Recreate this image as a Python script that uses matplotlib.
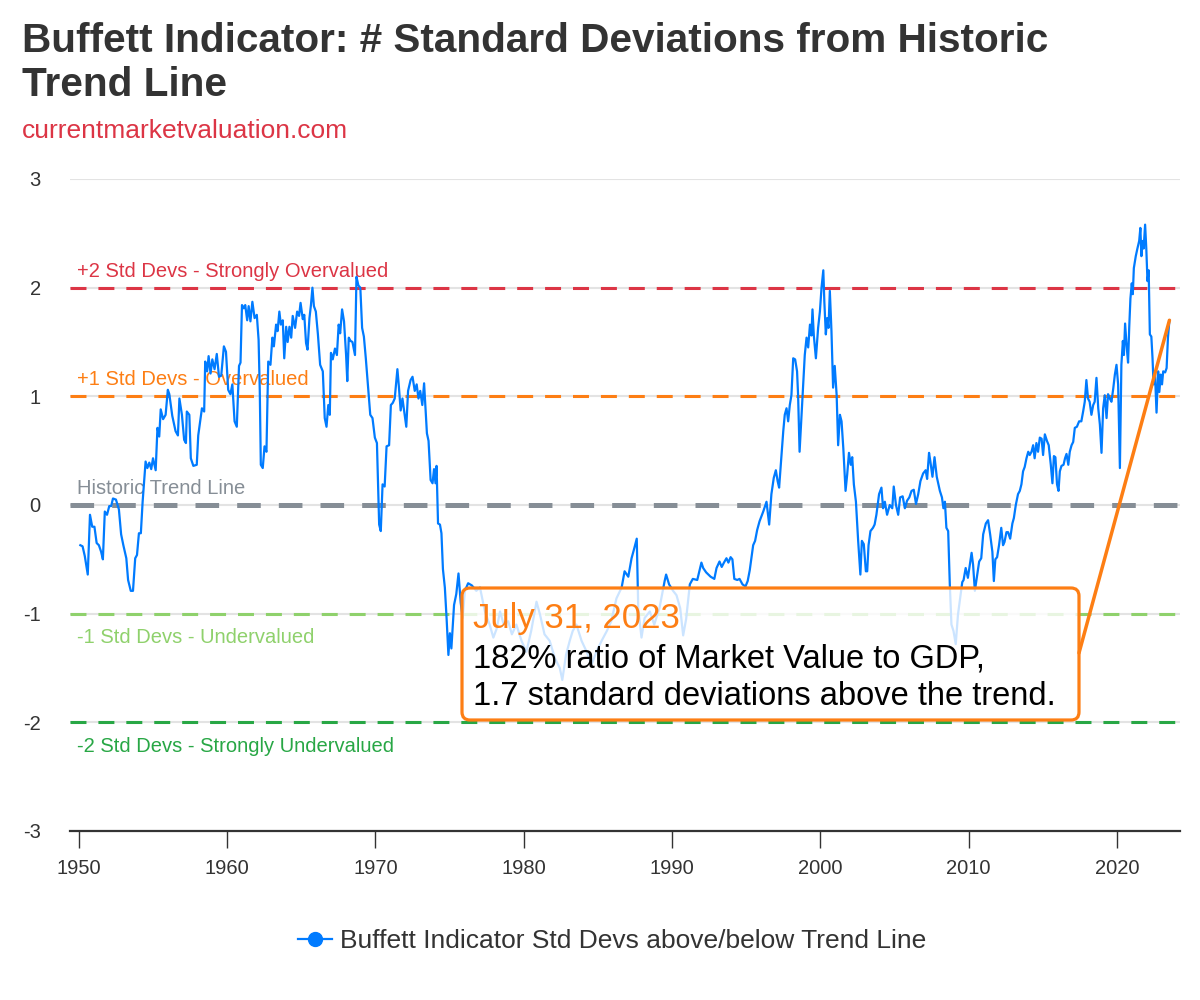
import matplotlib
matplotlib.use("Agg")
import matplotlib.pyplot as plt
import matplotlib.transforms as mtransforms
from matplotlib.patches import FancyBboxPatch
from matplotlib.lines import Line2D

plt.rcParams['font.family'] = ['Liberation Sans', 'DejaVu Sans']
plt.rcParams['axes.unicode_minus'] = False
plt.rcParams['lines.scale_dashes'] = False

# decimal year / std devs from trend
years = [
    1950.10, 1950.25, 1950.40, 1950.60, 1950.75, 1950.90, 1951.05, 1951.20, 1951.35, 1951.50,
    1951.62, 1951.75, 1951.90, 1952.05, 1952.18, 1952.30, 1952.50, 1952.70, 1952.85, 1953.00,
    1953.20, 1953.32, 1953.50, 1953.65, 1953.80, 1953.92, 1954.05, 1954.18, 1954.30, 1954.50,
    1954.62, 1954.75, 1954.88, 1955.00, 1955.18, 1955.30, 1955.42, 1955.52, 1955.68, 1955.85,
    1956.00, 1956.10, 1956.30, 1956.52, 1956.68, 1956.78, 1956.95, 1957.10, 1957.22, 1957.28,
    1957.45, 1957.55, 1957.72, 1957.95, 1958.05, 1958.30, 1958.45, 1958.52, 1958.65, 1958.75,
    1958.88, 1959.00, 1959.15, 1959.30, 1959.45, 1959.60, 1959.78, 1959.92, 1960.07, 1960.22,
    1960.35, 1960.50, 1960.65, 1960.80, 1960.90, 1961.00, 1961.12, 1961.22, 1961.35, 1961.45,
    1961.57, 1961.70, 1961.85, 1962.00, 1962.12, 1962.20, 1962.27, 1962.40, 1962.52, 1962.65,
    1962.77, 1962.92, 1963.05, 1963.15, 1963.30, 1963.40, 1963.52, 1963.62, 1963.75, 1963.85,
    1963.98, 1964.08, 1964.20, 1964.32, 1964.42, 1964.58, 1964.72, 1964.85, 1964.95, 1965.10,
    1965.20, 1965.32, 1965.42, 1965.55, 1965.65, 1965.75, 1965.85, 1965.98, 1966.12, 1966.27,
    1966.45, 1966.58, 1966.70, 1966.82, 1966.92, 1967.00, 1967.12, 1967.27, 1967.40, 1967.52,
    1967.62, 1967.75, 1967.88, 1968.02, 1968.10, 1968.20, 1968.32, 1968.45, 1968.62, 1968.72,
    1968.85, 1968.98, 1969.10, 1969.22, 1969.35, 1969.50, 1969.65, 1969.80, 1969.96, 1970.10,
    1970.25, 1970.36, 1970.48, 1970.62, 1970.75, 1970.92, 1971.04, 1971.17, 1971.30, 1971.48,
    1971.58, 1971.70, 1971.82, 1971.95, 1972.08, 1972.20, 1972.37, 1972.50, 1972.65, 1972.78,
    1972.90, 1973.02, 1973.16, 1973.28, 1973.47, 1973.58, 1973.72, 1973.85, 1973.95, 1974.05,
    1974.12, 1974.22, 1974.35, 1974.45, 1974.55, 1974.68, 1974.80, 1974.92, 1975.02, 1975.12,
    1975.30, 1975.45, 1975.60, 1975.75, 1975.88, 1976.03, 1976.25, 1976.50, 1976.80, 1977.05,
    1977.38, 1977.70, 1977.95, 1978.17, 1978.40, 1978.65, 1978.95, 1979.20, 1979.50, 1979.85,
    1980.18, 1980.50, 1980.86, 1981.10, 1981.40, 1981.75, 1982.10, 1982.43, 1982.60, 1982.85,
    1983.10, 1983.30, 1983.55, 1983.90, 1984.24, 1984.57, 1984.90, 1985.25, 1985.60, 1985.90,
    1986.25, 1986.60, 1986.80, 1987.05, 1987.27, 1987.45, 1987.62, 1987.72, 1987.94, 1988.15,
    1988.50, 1988.80, 1989.15, 1989.50, 1989.60, 1989.80, 1990.07, 1990.30, 1990.55, 1990.75,
    1990.95, 1991.20, 1991.40, 1991.70, 1991.98, 1992.10, 1992.30, 1992.60, 1992.85, 1993.00,
    1993.20, 1993.35, 1993.50, 1993.67, 1993.80, 1993.95, 1994.07, 1994.20, 1994.40, 1994.55,
    1994.75, 1994.95, 1995.10, 1995.24, 1995.47, 1995.60, 1995.74, 1995.90, 1996.15, 1996.37,
    1996.55, 1996.70, 1996.86, 1997.00, 1997.12, 1997.22, 1997.38, 1997.50, 1997.60, 1997.72,
    1997.83, 1997.94, 1998.05, 1998.17, 1998.30, 1998.43, 1998.50, 1998.60, 1998.72, 1998.84,
    1998.95, 1999.07, 1999.18, 1999.30, 1999.40, 1999.47, 1999.56, 1999.70, 1999.85, 1999.97,
    2000.08, 2000.20, 2000.27, 2000.37, 2000.46, 2000.55, 2000.64, 2000.75, 2000.86, 2000.97,
    2001.10, 2001.20, 2001.32, 2001.43, 2001.55, 2001.70, 2001.81, 2001.93, 2002.05, 2002.15,
    2002.26, 2002.40, 2002.55, 2002.70, 2002.80, 2002.93, 2003.07, 2003.16, 2003.25, 2003.38,
    2003.55, 2003.66, 2003.78, 2003.96, 2004.12, 2004.23, 2004.35, 2004.50, 2004.68, 2004.85,
    2004.95, 2005.10, 2005.25, 2005.38, 2005.55, 2005.70, 2005.85, 2006.00, 2006.15, 2006.30,
    2006.45, 2006.60, 2006.75, 2006.93, 2007.10, 2007.20, 2007.33, 2007.42, 2007.56, 2007.70,
    2007.85, 2008.06, 2008.20, 2008.30, 2008.40, 2008.50, 2008.62, 2008.73, 2008.84, 2008.98,
    2009.13, 2009.28, 2009.45, 2009.57, 2009.66, 2009.80, 2009.95, 2010.08, 2010.20, 2010.30,
    2010.42, 2010.55, 2010.71, 2010.85, 2010.98, 2011.16, 2011.31, 2011.45, 2011.60, 2011.70,
    2011.80, 2011.92, 2012.05, 2012.20, 2012.32, 2012.42, 2012.55, 2012.66, 2012.80, 2012.95,
    2013.05, 2013.18, 2013.33, 2013.45, 2013.56, 2013.67, 2013.78, 2013.90, 2014.02, 2014.12,
    2014.24, 2014.35, 2014.45, 2014.57, 2014.68, 2014.80, 2014.92, 2015.02, 2015.14, 2015.28,
    2015.40, 2015.54, 2015.65, 2015.75, 2015.85, 2015.96, 2016.06, 2016.15, 2016.26, 2016.40,
    2016.50, 2016.60, 2016.72, 2016.82, 2016.94, 2017.05, 2017.16, 2017.30, 2017.45, 2017.60,
    2017.72, 2017.83, 2017.94, 2018.05, 2018.16, 2018.28, 2018.40, 2018.50, 2018.62, 2018.74,
    2018.85, 2018.96, 2019.07, 2019.18, 2019.30, 2019.40, 2019.52, 2019.63, 2019.75, 2019.86,
    2019.97, 2020.08, 2020.20, 2020.30, 2020.40, 2020.47, 2020.55, 2020.65, 2020.75, 2020.83,
    2020.91, 2021.00, 2021.07, 2021.14, 2021.27, 2021.38, 2021.50, 2021.58, 2021.65, 2021.72,
    2021.80, 2021.90, 2021.98, 2022.06, 2022.14, 2022.22, 2022.32, 2022.40, 2022.47, 2022.56,
    2022.67, 2022.78, 2022.86, 2022.95, 2023.04, 2023.12, 2023.25, 2023.35, 2023.44, 2023.54,
]
std_devs = [
    -0.37, -0.38, -0.47, -0.64, -0.09, -0.20, -0.20, -0.35, -0.37, -0.43,
    -0.50, -0.06, -0.09, -0.01, -0.01, 0.06, 0.05, -0.04, -0.27, -0.37,
    -0.49, -0.69, -0.79, -0.79, -0.49, -0.46, -0.26, -0.26, 0.03, 0.40,
    0.34, 0.39, 0.33, 0.43, 0.32, 0.71, 0.63, 0.88, 0.79, 0.83,
    1.06, 1.02, 0.82, 0.68, 0.64, 0.98, 0.83, 0.60, 0.57, 0.86,
    0.83, 0.43, 0.36, 0.37, 0.64, 0.89, 0.86, 1.32, 1.23, 1.37,
    1.21, 1.34, 1.25, 1.39, 1.18, 1.19, 1.46, 1.41, 1.06, 1.02,
    1.11, 0.77, 0.72, 1.28, 1.31, 1.84, 1.81, 1.84, 1.70, 1.83,
    1.69, 1.87, 1.72, 1.75, 1.52, 1.05, 0.37, 0.34, 0.54, 0.49,
    1.32, 1.29, 1.54, 1.46, 1.66, 1.60, 1.78, 1.66, 1.70, 1.35,
    1.64, 1.50, 1.64, 1.54, 1.74, 1.63, 1.78, 1.74, 1.86, 1.71,
    1.75, 1.49, 1.43, 1.72, 1.84, 2.00, 1.83, 1.78, 1.57, 1.29,
    1.23, 0.80, 0.72, 0.92, 0.83, 1.40, 1.34, 1.44, 1.38, 1.66,
    1.58, 1.80, 1.69, 1.38, 1.14, 1.54, 1.51, 1.50, 1.38, 2.10,
    2.02, 2.00, 1.63, 1.55, 1.35, 1.09, 0.83, 0.80, 0.62, 0.57,
    -0.18, -0.24, 0.19, 0.17, 0.54, 0.55, 0.92, 0.94, 0.98, 1.25,
    1.09, 0.87, 0.98, 0.85, 0.72, 1.05, 1.15, 1.18, 1.05, 1.11,
    0.98, 1.05, 0.92, 1.12, 0.66, 0.59, 0.23, 0.20, 0.33, 0.20,
    0.36, -0.17, -0.18, -0.26, -0.59, -0.76, -1.05, -1.38, -1.18, -1.32,
    -0.92, -0.82, -0.63, -0.90, -1.04, -0.79, -0.72, -0.74, -0.79, -0.76,
    -0.98, -1.10, -1.22, -1.14, -0.98, -1.10, -1.07, -1.19, -1.10, -1.25,
    -1.35, -1.16, -0.89, -1.01, -1.19, -1.25, -1.41, -1.50, -1.61, -1.38,
    -1.25, -1.16, -1.10, -1.25, -1.35, -1.47, -1.35, -1.25, -1.16, -1.07,
    -0.86, -0.76, -0.61, -0.66, -0.49, -0.40, -0.31, -0.95, -1.22, -1.04,
    -0.98, -1.10, -0.95, -0.70, -0.64, -0.73, -0.79, -0.83, -0.95, -1.20,
    -1.05, -0.73, -0.68, -0.69, -0.53, -0.58, -0.62, -0.66, -0.68, -0.58,
    -0.52, -0.57, -0.53, -0.49, -0.53, -0.48, -0.50, -0.68, -0.69, -0.68,
    -0.73, -0.75, -0.70, -0.60, -0.37, -0.33, -0.23, -0.15, -0.06, 0.03,
    -0.18, 0.10, 0.25, 0.32, 0.22, 0.16, 0.46, 0.68, 0.83, 0.89,
    0.77, 0.92, 1.01, 1.35, 1.34, 1.23, 1.01, 0.49, 0.80, 1.11,
    1.38, 1.54, 1.45, 1.66, 1.56, 1.80, 1.56, 1.35, 1.63, 1.78,
    2.00, 2.16, 1.87, 1.57, 1.72, 1.63, 1.97, 1.60, 1.08, 1.28,
    1.01, 0.55, 0.83, 0.77, 0.52, 0.13, 0.28, 0.48, 0.37, 0.44,
    0.19, 0.03, -0.33, -0.64, -0.33, -0.36, -0.61, -0.61, -0.37, -0.24,
    -0.21, -0.18, -0.09, 0.10, 0.16, -0.03, 0.03, -0.09, 0.00, -0.03,
    0.17, 0.00, -0.09, 0.07, 0.08, -0.03, 0.04, 0.07, 0.13, 0.14,
    0.01, 0.10, 0.22, 0.29, 0.32, 0.24, 0.48, 0.40, 0.26, 0.44,
    0.26, 0.13, 0.07, -0.03, 0.03, -0.21, -0.24, -0.73, -1.10, -1.16,
    -1.28, -1.01, -0.83, -0.71, -0.69, -0.58, -0.67, -0.55, -0.44, -0.55,
    -0.79, -0.67, -0.52, -0.49, -0.27, -0.17, -0.14, -0.27, -0.43, -0.70,
    -0.50, -0.48, -0.37, -0.21, -0.37, -0.34, -0.25, -0.25, -0.31, -0.17,
    -0.12, 0.00, 0.10, 0.13, 0.19, 0.31, 0.35, 0.43, 0.49, 0.46,
    0.49, 0.55, 0.43, 0.57, 0.49, 0.62, 0.61, 0.46, 0.65, 0.59,
    0.55, 0.37, 0.20, 0.45, 0.44, 0.19, 0.13, 0.31, 0.36, 0.37,
    0.43, 0.47, 0.37, 0.49, 0.55, 0.58, 0.71, 0.72, 0.77, 0.77,
    0.86, 0.95, 1.15, 0.98, 0.95, 0.83, 0.92, 0.95, 1.17, 0.89,
    0.74, 0.48, 0.89, 1.01, 0.80, 1.02, 0.98, 0.95, 1.07, 1.20,
    1.29, 1.11, 0.34, 1.29, 1.51, 1.38, 1.67, 1.47, 1.31, 1.64,
    1.90, 2.04, 1.94, 2.18, 2.29, 2.36, 2.43, 2.55, 2.29, 2.43,
    2.36, 2.58, 2.36, 2.06, 2.16, 1.57, 1.55, 1.35, 1.11, 1.23,
    0.85, 1.23, 1.04, 1.20, 1.11, 1.23, 1.22, 1.26, 1.54, 1.70,
]

levels = [2, 1, 0, -1, -2]
level_labels = ["+2 Std Devs - Strongly Overvalued", "+1 Std Devs - Overvalued",
                "Historic Trend Line", "-1 Std Devs - Undervalued",
                "-2 Std Devs - Strongly Undervalued"]
level_colors = ["#dc3545", "#fd7e14", "#868e96", "#8fd16c", "#28a745"]

x_ticks = [1950, 1960, 1970, 1980, 1990, 2000, 2010, 2020]
y_ticks = [-3, -2, -1, 0, 1, 2, 3]

blue = "#007bff"
orange = "#fd7e14"
dark = "#333333"

fig = plt.figure(figsize=(12, 10), dpi=100)
ax = fig.add_axes([0.0583, 0.169, 0.925, 0.652])

ax.set_xlim(1949.4, 2024.25)
ax.set_ylim(-3, 3)
ax.set_yticks(y_ticks)
ax.set_yticklabels([str(v) for v in y_ticks])
ax.set_xticks(x_ticks)
ax.set_xticklabels([str(v) for v in x_ticks])
for s in ['top', 'right', 'left']:
    ax.spines[s].set_visible(False)
ax.spines['bottom'].set_color(dark)
ax.spines['bottom'].set_linewidth(1.6)
ax.tick_params(axis='y', length=0, pad=21, labelsize=14.5, labelcolor=dark)
ax.tick_params(axis='x', length=12, width=1, color=dark, pad=8, labelsize=14.5, labelcolor=dark)
for v in y_ticks[1:]:
    ax.axhline(v, color='#e3e3e3', lw=1.5, zorder=0)

# reference lines + labels
trans = mtransforms.blended_transform_factory(ax.transAxes, ax.transData)
for lv, lab, col in zip(levels, level_labels, level_colors):
    if lv == 0:
        ax.axhline(lv, color=col, lw=3.6, dashes=(17, 13), zorder=1)
    else:
        ax.axhline(lv, color=col, lw=2.2, dashes=(11.5, 8.6), zorder=1)
    if lv >= 0:
        ax.text(0.0063, lv + 0.10, lab, transform=trans, color=col, fontsize=14.5, va='baseline')
    else:
        ax.text(0.0063, lv - 0.27, lab, transform=trans, color=col, fontsize=14.5, va='baseline')

ax.plot(years, std_devs, color=blue, lw=1.6, zorder=3)

# annotation box
box = FancyBboxPatch((4.62, 2.80), 6.17, 1.32, boxstyle="round,pad=0,rounding_size=0.08",
                     transform=fig.dpi_scale_trans, facecolor=(1, 1, 1, 0.8),
                     edgecolor=orange, lw=2.3, zorder=5, clip_on=False)
ax.add_patch(box)
ax.annotate('', xy=(years[-1], std_devs[-1]), xycoords='data',
            xytext=(10.79, 3.47), textcoords=fig.dpi_scale_trans,
            arrowprops=dict(arrowstyle='-', color=orange, lw=2.5, shrinkA=0, shrinkB=0),
            zorder=6)
fig.text(473 / 1200, 1 - 628 / 1000, "July 31, 2023", color=orange, fontsize=25, va='baseline', zorder=7)
fig.text(473 / 1200, 1 - 667 / 1000, "182% ratio of Market Value to GDP,", color='black',
         fontsize=23.5, va='baseline', zorder=7)
fig.text(473 / 1200, 1 - 705 / 1000, "1.7 standard deviations above the trend.", color='black',
         fontsize=23.5, va='baseline', zorder=7)

# titles
fig.text(22 / 1200, 1 - 52 / 1000, "Buffett Indicator: # Standard Deviations from Historic",
         fontsize=29.2, fontweight='bold', color=dark, va='baseline')
fig.text(22 / 1200, 1 - 96 / 1000, "Trend Line", fontsize=29.2, fontweight='bold', color=dark, va='baseline')
fig.text(22 / 1200, 1 - 138 / 1000, "currentmarketvaluation.com", fontsize=19, color='#dc3545', va='baseline')

# legend
handle = Line2D([], [], color=blue, lw=1.6, marker='o', markersize=10)
fig.legend([handle], ["Buffett Indicator Std Devs above/below Trend Line"], loc='center',
           bbox_to_anchor=(0.51, 0.059), frameon=False, fontsize=19, labelcolor=dark,
           handlelength=1.3, handletextpad=0.3)

fig.savefig('out.png', dpi=100)
